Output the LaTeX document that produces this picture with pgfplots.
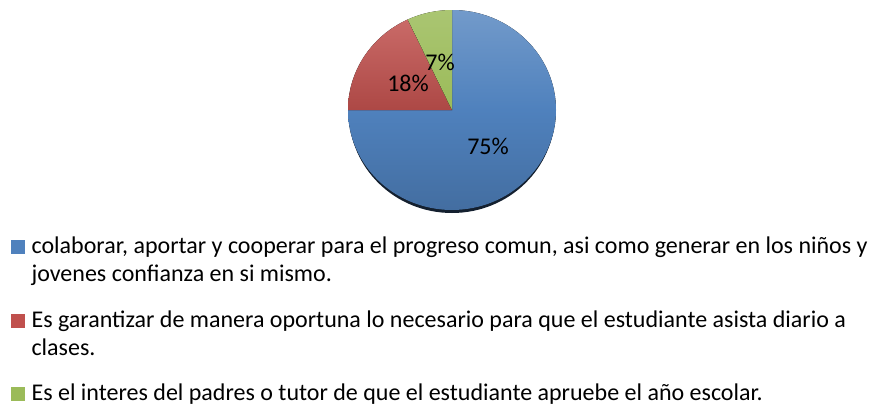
\documentclass[border=0pt]{standalone}
\usepackage{pgfplots}
\pgfplotsset{compat=1.18}
\usepackage{pgfplotstable}
\usepackage{fontspec}
\setmainfont{Carlito}
\definecolor{pieblue}{HTML}{4F81BD}
\definecolor{piered}{HTML}{C0504D}
\definecolor{piegreen}{HTML}{9BBB59}
\pgfplotstableread{
pct
75
18
7
}\piedata
\begin{document}
\begin{tikzpicture}[x=1pt,y=1pt]
\useasboundingbox (0,0) rectangle (874,405);
\pgfplotstablegetelem{0}{pct}\of\piedata \pgfmathsetmacro{\pa}{\pgfplotsretval}
\pgfplotstablegetelem{1}{pct}\of\piedata \pgfmathsetmacro{\pb}{\pgfplotsretval}
\pgfplotstablegetelem{2}{pct}\of\piedata \pgfmathsetmacro{\pc}{\pgfplotsretval}
\pgfmathsetmacro{\aA}{90}
\pgfmathsetmacro{\aB}{90-3.6*\pa}
\pgfmathsetmacro{\aC}{\aB-3.6*\pb}
\pgfmathsetmacro{\aD}{\aC-3.6*\pc}
\begin{axis}[
  at={(452pt,295pt)}, anchor=origin,
  x=1pt, y=1pt, scale only axis,
  xmin=-110, xmax=110, ymin=-110, ymax=110,
  hide axis, clip=false,
  legend style={at={(axis cs:-441,-125)}, anchor=north west, draw=none, fill=none,
    font=\fontsize{24}{28}\selectfont, inner sep=0pt, row sep=23pt,
    cells={anchor=north west, align=left}},
  legend cell align=left,
  legend image code/.code={\path (0pt,25pt) (18pt,0pt); \fill[#1, draw=none] (0pt,6pt) rectangle (14pt,20pt);},
]
\addlegendimage{fill=pieblue}
\addlegendentry{colaborar, aportar y cooperar para el progreso comun, asi como generar en los niños y\\jovenes confianza en si mismo.\strut}
\addlegendimage{fill=piered}
\addlegendentry{Es garantizar de manera oportuna lo necesario para que el estudiante asista diario a\\clases.\strut}
\addlegendimage{fill=piegreen}
\addlegendentry{Es el interes del padres o tutor de que el estudiante apruebe el año escolar.\\\strut}
% shadow
\fill[black!75!pieblue] (axis cs:0,-3) ellipse [x radius=103pt, y radius=100pt];
% slices
\fill[top color=pieblue!80!white, bottom color=pieblue!85!black, middle color=pieblue]
  (axis cs:0,0) -- (axis cs:{104*cos(\aA)},{100*sin(\aA)})
  arc[start angle=\aA, end angle=\aB, x radius=104pt, y radius=100pt] -- cycle;
\fill[top color=piered!85!white, bottom color=piered!90!black]
  (axis cs:0,0) -- (axis cs:{104*cos(\aB)},{100*sin(\aB)})
  arc[start angle=\aB, end angle=\aC, x radius=104pt, y radius=100pt] -- cycle;
\fill[top color=piegreen!85!white, bottom color=piegreen]
  (axis cs:0,0) -- (axis cs:{104*cos(\aC)},{100*sin(\aC)})
  arc[start angle=\aC, end angle=\aD, x radius=104pt, y radius=100pt] -- cycle;
\node[font=\fontsize{24}{28}\selectfont] at (axis cs:36,-36) {75\%};
\node[font=\fontsize{24}{28}\selectfont] at (axis cs:-44,27) {18\%};
\node[font=\fontsize{24}{28}\selectfont] at (axis cs:-12,48) {7\%};
\end{axis}
\end{tikzpicture}
\end{document}
